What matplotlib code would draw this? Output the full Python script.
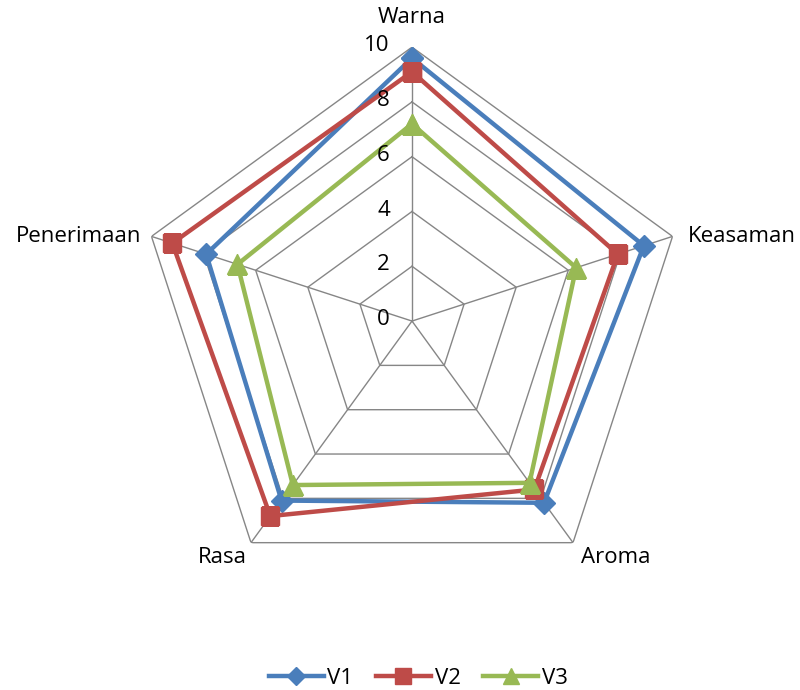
"""
Radar chart of sensory scores (Warna, Keasaman, Aroma, Rasa, Penerimaan)
for three variants V1-V3, drawn Excel-style with a pentagon grid.
"""
import matplotlib

matplotlib.use("Agg")
import matplotlib.pyplot as plt
import numpy as np

categories = ["Warna", "Keasaman", "Aroma", "Rasa", "Penerimaan"]
v1 = [9.6, 8.9, 8.2, 8.1, 7.9]
v2 = [9.1, 7.9, 7.6, 8.8, 9.2]
v3 = [7.2, 6.3, 7.3, 7.4, 6.7]
series_names = ["V1", "V2", "V3"]
r_ticks = [0, 2, 4, 6, 8, 10]

plt.rcParams["font.family"] = ["Open Sans", "DejaVu Sans"]

colors = ["#4a7ebb", "#be4b48", "#98b954"]
markers = ["D", "s", "^"]
msizes = [11, 13, 14]
fs = 16

n = len(categories)
theta = np.linspace(0, 2 * np.pi, n, endpoint=False)
theta_closed = np.append(theta, theta[0])

fig = plt.figure(figsize=(8, 6.9), dpi=100)
# centre at (414, 321) px, radius 274 px
ax = fig.add_axes([0.1725, 0.1377, 0.685, 0.794], projection="polar")
ax.set_theta_offset(np.pi / 2)
ax.set_theta_direction(-1)
ax.set_ylim(0, 10)
ax.grid(False)
ax.spines["polar"].set_visible(False)
ax.set_xticks([])
ax.set_yticks([])
ax.patch.set_visible(False)

grid_col = "#868686"
for r in r_ticks[1:]:
    ax.plot(theta_closed, [r] * (n + 1), color=grid_col, lw=1.0, zorder=1)
for t in theta:
    ax.plot([t, t], [0, 10], color=grid_col, lw=1.0, zorder=1)

# radial tick labels next to the top spoke, drawn above the series lines
for r in r_ticks:
    ax.annotate(str(r), xy=(0, r), xytext=(-16, 1), textcoords="offset points",
                ha="right", va="center", fontsize=fs, color="#000000", zorder=6)

# category labels just outside the outer ring
offsets = [(0, 14), (11, 0), (6, -3), (-3, -3), (-7, 0)]
aligns = [("center", "bottom"), ("left", "center"), ("left", "top"),
          ("right", "top"), ("right", "center")]
for t, name, off, (ha, va) in zip(theta, categories, offsets, aligns):
    ax.annotate(name, xy=(t, 10), xytext=off, textcoords="offset points",
                ha=ha, va=va, fontsize=fs, color="#000000", zorder=6)

handles = []
for vals, name, c, m, ms in zip([v1, v2, v3], series_names, colors, markers, msizes):
    vc = vals + vals[:1]
    (h,) = ax.plot(theta_closed, vc, color=c, lw=3.2, marker=m, markersize=ms,
                   markerfacecolor=c, markeredgecolor=c, zorder=3, label=name)
    handles.append(h)

leg = fig.legend(handles=handles, loc="lower center", bbox_to_anchor=(0.5225, -0.027),
                 ncol=3, frameon=False, fontsize=fs, handlelength=2.5,
                 handletextpad=0.15, columnspacing=1.0, markerscale=0.85)

fig.savefig("out.png", dpi=100)
